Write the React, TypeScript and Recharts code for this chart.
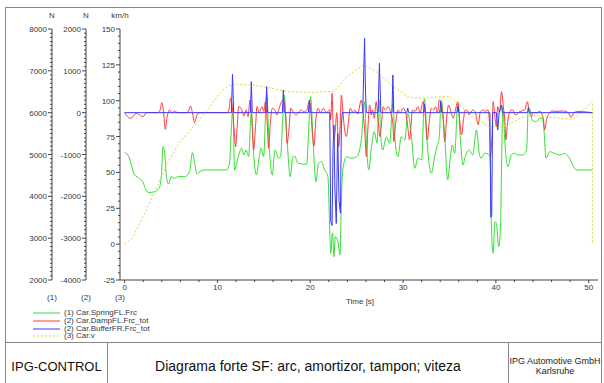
import { LineChart, Line, XAxis, YAxis } from 'recharts';

// (1) Car.SpringFL.Frc [N]
const springT = [
  0, 0.36, 1.08, 1.6, 2.0, 2.3, 2.6, 3.2, 3.7, 3.95, 4.13, 4.3, 4.5, 4.74, 5.0, 5.4, 5.74, 6.47, 7.0, 7.3,
  7.54, 7.8, 8.1, 8.6, 11.0, 11.3, 11.45, 11.65, 11.85, 12.2, 12.6, 12.85, 13.1, 13.35, 13.65, 13.9, 14.2,
  14.5, 14.7, 14.97, 15.3, 15.6, 15.9, 16.2, 16.6, 16.8, 17.06, 17.2, 17.5, 17.85, 18.1, 18.3, 18.7, 19.6,
  19.9, 20.04, 20.3, 20.6, 20.9, 21.2, 21.55, 21.9, 22.1, 22.2, 22.4, 22.55, 22.7, 23.0, 23.2, 23.35, 23.5,
  23.9, 24.4, 25.0, 25.5, 25.86, 26.05, 26.3, 26.6, 26.9, 27.2, 27.4, 27.6, 27.8, 28.2, 28.55, 28.9, 29.1,
  29.45, 29.8, 30.2, 30.5, 30.9, 31.25, 31.6, 32.0, 32.3, 32.6, 33.05, 33.4, 33.65, 33.9, 34.1, 34.5, 34.8,
  35.1, 35.3, 35.56, 35.9, 36.2, 36.45, 36.7, 37.1, 37.5, 37.9, 38.2, 38.4, 38.8, 39.3, 39.45, 39.5, 39.7,
  39.9, 40.05, 40.3, 40.5, 40.6, 40.76, 40.95, 41.3, 41.66, 42.0, 42.4, 42.9, 43.3, 43.5, 43.7, 43.9, 44.4,
  44.7, 45.0, 45.15, 45.4, 45.8, 46.3, 46.9, 47.4, 47.8, 48.7, 50.4,
];
const springN = [
  5044, 4988, 4510, 4430, 4320, 4150, 4090, 4110, 4190, 4470, 5187, 5068, 4470, 4295, 4470, 4430, 4470, 4470, 4590, 5044,
  4790, 4535, 4590, 4630, 4630, 4790, 5400, 6100, 4630, 4910, 5150, 4990, 5108, 4948, 6000, 5000, 4510,
  4948, 5150, 4948, 6420, 5108, 4510, 5108, 4910, 4950, 5993, 6420, 5347, 4470, 4910, 4965, 4790, 4766,
  5904, 6382, 5347, 4350, 4790, 4830, 4630, 4470, 3196, 2640, 3125, 2558, 3036, 2885, 2600, 3841, 4630,
  4948, 4910, 4948, 5347, 6262, 5268, 4630, 5187, 5545, 5268, 6303, 5426, 5108, 5426, 5268, 6223, 5426,
  4948, 5426, 5347, 5985, 5426, 4671, 4910, 4870, 6344, 5268, 4551, 4948, 5187, 5426, 6303, 5347, 4391,
  4948, 5228, 5029, 6223, 5268, 4750, 4948, 5108, 4989, 5586, 5029, 4910, 5029, 4989, 4500, 3355, 2640,
  3395, 3355, 2797, 3275, 4630, 6143, 5347, 4710, 4989, 5029, 4989, 4989, 5108, 6143, 6064, 5825, 5786,
  5865, 5865, 5666, 4910, 5068, 5029, 4989, 5029, 4948, 4630, 4630,
];

// (2) Car.DampFL.Frc_tot [N]
const dampT = [
  0, 0.15, 0.7, 1.25, 1.6, 1.97, 2.4, 3.6, 3.84, 4.0, 4.2, 4.38, 4.55, 4.85, 5.1, 5.4, 5.7, 6.7, 6.93, 7.1,
  7.3, 7.54, 7.8, 8.1, 11.0, 11.24, 11.4, 11.6, 11.8, 11.96, 12.1, 12.3, 12.6, 12.85, 13.1, 13.3, 13.5, 13.7,
  13.9, 14.1, 14.26, 14.5, 14.8, 15.0, 15.16, 15.4, 15.5, 15.7, 15.9, 16.2, 16.4, 16.65, 16.9, 17.1, 17.35,
  17.5, 17.7, 17.9, 18.2, 18.5, 18.75, 19.0, 19.3, 19.65, 19.86, 20.03, 20.2, 20.4, 20.6, 20.83, 21.1, 21.4,
  21.7, 21.9, 22.1, 22.2, 22.35, 22.45, 22.55, 22.7, 22.85, 23.06, 23.2, 23.35, 23.5, 23.7, 23.9, 24.1, 24.3,
  24.6, 24.8, 25.1, 25.5, 25.65, 25.86, 26.05, 26.2, 26.4, 26.55, 26.7, 26.9, 27.1, 27.3, 27.5, 27.65, 27.85,
  28.1, 28.4, 28.65, 28.9, 29.0, 29.2, 29.45, 29.7, 30.0, 30.25, 30.5, 30.7, 30.85, 31.0, 31.3, 31.6, 31.85,
  32.15, 32.4, 32.6, 32.8, 33.05, 33.3, 33.5, 33.7, 33.9, 34.05, 34.3, 34.5, 34.65, 34.9, 35.1, 35.4, 35.6,
  35.9, 36.1, 36.3, 36.5, 36.7, 37.0, 37.1, 37.5, 37.8, 38.1, 38.3, 38.6, 38.9, 39.15, 39.3, 39.4, 39.6,
  39.7, 39.85, 40.05, 40.2, 40.4, 40.6, 40.8, 41.0, 41.06, 41.25, 41.5, 41.8, 42.1, 42.6, 43.1, 43.4, 43.55,
  43.8, 44.0, 44.4, 44.7, 45.1, 45.26, 45.45, 45.8, 46.0, 46.5, 47.3, 47.8, 48.1, 48.4, 48.8, 50.4,
];
const dampN = [
  0, -55, -134, -15, -55, -95, 0, 0, 80, 240, 0, -397, -134, 65, 0, 40, 0, 0, 65, 160,
  0, -240, -55, 0, 0, 65, 344, 144, -413, -812, -413, 144, 80, -79, 65, -95, 303, -95,
  -891, -334, 144, 0, 144, 30, 263, -413, -851, -254, 105, 60, -55, 105, 263, 303, -95,
  -732, -413, 105, 0, -55, 0, 65, 20, 65, 263, 150, -413, -794, -174, 105, 0, 105,
  0, 30, 65, -174, 464, -250, -652, -413, 0, -812, -413, 422, 65, -413, -572, -254, 105,
  0, 65, -30, 303, 65, -413, -1050, -413, 184, -55, 65, -134, 263, -174, -572, -334, 144,
  65, 144, 0, -254, -692, -254, 65, 0, 105, 30, -334, -652, -334, 65, 30, 144, 0,
  263, -95, -652, -254, 105, 65, 144, 0, 303, 263, -95, -692, -254, 184, 65, -134, 30,
  263, -174, -533, -174, 65, 30, -55, 65, 0, -294, 0, 65, 30, 65, -214, -1050, -413,
  263, 0, -334, 144, 0, 502, 144, -334, -652, -254, 30, 65, -55, 30, 65, 263, 65,
  -95, 0, 0, 40, -134, -413, -174, 0, 40, 30, 40, 0, -110, 0, 30, 0,
];

// (2) Car.BufferFR.Frc_tot [N]
const bufferT = [
  0, 11.5, 11.62, 11.75, 13.55, 13.65, 13.75, 15.2, 15.3, 15.4, 17.0, 17.1, 17.2, 19.8, 19.9, 20.0,
  22.1, 22.2, 22.35, 22.45, 22.55, 22.65, 22.8, 22.95, 23.1, 23.25, 23.35, 23.45, 25.65, 25.75, 25.85,
  25.95, 26.05, 27.3, 27.45, 27.6, 28.8, 28.9, 29.0, 30.4, 30.5, 30.6, 32.2, 32.3, 32.4, 33.95, 34.05,
  34.15, 35.8, 35.9, 36.0, 39.35, 39.45, 39.55, 39.65, 40.05, 40.2, 40.35, 40.6, 40.7, 43.4, 43.5, 43.6, 50.4,
];
const bufferN = [
  0, 0, 918, 0, 0, 741, 0, 0, 621, 0, 0, 542, 0, 0, 303, 0,
  0, -2600, -2700, -900, -300, -1800, -2650, -500, -2100, -2400, -300, 0, 0, 900, 1777,
  500, 0, 0, 1180, 0, 0, 900, 0, 0, 110, 0, 0, 200, 0, 0, 260,
  0, 0, 150, 0, 0, -2500, -2450, 0, 0, -413, 0, 184, 0, 0, 105, 0, 0,
];

// (3) Car.v [km/h]
const speedT = [
  0, 0.8, 1.6, 3.05, 4.5, 5.9, 7.7, 9.2, 10.2, 11.1, 11.8, 13.8, 15.3, 16.7, 17.8, 20.3, 22.6, 23.9, 25.7,
  27.1, 28.9, 30.5, 32.1, 33.9, 35.0, 36.1, 37.5, 39.3, 40.8, 42.6, 43.6, 45.4, 46.9, 48.3, 49.4, 50.4, 50.4,
];
const speedV = [
  0, 4, 14, 34, 55, 71, 84, 95.7, 105, 110.2, 111.6, 110.9, 109.3, 107.5, 106.2, 105.8, 106.7, 116.7, 124.8,
  120.2, 110.2, 102.7, 101.6, 102.7, 103.2, 97, 88.8, 81.8, 81.8, 87.7, 90, 88.8, 87.7, 87, 93.4, 99.2, 0.5,
];

const xTicks = [0, 2, 4, 6, 8, 10, 12, 14, 16, 18, 20, 22, 24, 26, 28, 30, 32, 34, 36, 38, 40, 42, 44, 46, 48, 50];

const steps = (from: number, to: number, step: number) => {
  const out: number[] = [];
  for (let v = from; v <= to; v += step) out.push(v);
  return out;
};

const n1Ticks = steps(2000, 8000, 100);
const n2Ticks = steps(-4000, 2000, 100);
const vTicks = steps(-25, 150, 5);

const legendItems = [
  { label: '(1) Car.SpringFL.Frc', color: '#33e033', dash: '' },
  { label: '(2) Car.DampFL.Frc_tot', color: '#ff3b3b', dash: '' },
  { label: '(2) Car.BufferFR.Frc_tot', color: '#3838ff', dash: '' },
  { label: '(3) Car.v', color: '#d8d83a', dash: '2 2' },
];

const toPoints = (ts: number[], vs: number[]) => ts.map((t, i) => ({ t, v: vs[i] }));

const axisColor = '#444';
const labelColor = '#333a44';

const YTick = (major: number) => (props: any) => {
  const { x, y, payload } = props;
  const isMajor = Math.abs(payload.value % major) < 1e-6;
  return (
    <g>
      <line x1={x - (isMajor ? 4 : 2)} x2={x} y1={y} y2={y} stroke={axisColor} strokeWidth={1} />
      {isMajor && (
        <text x={x - 5} y={y} dy={3} textAnchor="end" fontSize={8} fill={labelColor}>
          {payload.value}
        </text>
      )}
    </g>
  );
};

const XTick = (props: any) => {
  const { x, y, payload } = props;
  const isMajor = payload.value % 10 === 0;
  return (
    <g>
      <line x1={x} x2={x} y1={y} y2={y + (isMajor ? 3 : 2)} stroke={axisColor} strokeWidth={1} />
      {isMajor && (
        <text x={x} y={y + 10} textAnchor="middle" fontSize={8} fill={labelColor}>
          {payload.value}
        </text>
      )}
    </g>
  );
};

const abs = (left: number, top: number, extra: any = {}) => ({
  position: 'absolute' as const,
  left,
  top,
  ...extra,
});

// axis ids: "a" sits next to the plot, "c" is outermost
const SPEED_AXIS = 'a';
const N2_AXIS = 'b';
const N1_AXIS = 'c';

export default function App() {
  const spring = toPoints(springT, springN);
  const damp = toPoints(dampT, dampN);
  const buffer = toPoints(bufferT, bufferN);
  const speed = toPoints(speedT, speedV);

  return (
    <div
      style={{
        position: 'absolute',
        left: 0,
        top: 0,
        width: 604,
        height: 383,
        background: '#fff',
        overflow: 'hidden',
        fontFamily: 'Arial, "Liberation Sans", sans-serif',
      }}
    >
      <div style={abs(5, 7, { width: 595, height: 390, border: '1px solid #888' })} />

      <div style={abs(0, 0)}>
        <LineChart width={604} height={300} margin={{ top: 29, right: 6, bottom: 0, left: 18 }}>
          <XAxis
            dataKey="t"
            type="number"
            domain={[-0.5, 51]}
            ticks={xTicks}
            interval={0}
            tick={XTick}
            tickSize={0}
            tickMargin={0}
            tickLine={false}
            height={20}
            stroke={axisColor}
          />
          <YAxis
            yAxisId={SPEED_AXIS}
            domain={[-25, 150]}
            ticks={vTicks}
            interval={0}
            tick={YTick(25)}
            tickSize={0}
            tickMargin={0}
            tickLine={false}
            width={34}
            stroke={axisColor}
          />
          <YAxis
            yAxisId={N2_AXIS}
            domain={[-4000, 2000]}
            ticks={n2Ticks}
            interval={0}
            tick={YTick(1000)}
            tickSize={0}
            tickMargin={0}
            tickLine={false}
            width={34}
            stroke={axisColor}
          />
          <YAxis
            yAxisId={N1_AXIS}
            domain={[2000, 8000]}
            ticks={n1Ticks}
            interval={0}
            tick={YTick(1000)}
            tickSize={0}
            tickMargin={0}
            tickLine={false}
            width={34}
            stroke={axisColor}
          />
          <Line
            yAxisId={N1_AXIS}
            data={spring}
            dataKey="v"
            type="monotone"
            stroke="#33e033"
            strokeWidth={1}
            dot={false}
            isAnimationActive={false}
          />
          <Line
            yAxisId={N2_AXIS}
            data={damp}
            dataKey="v"
            type="monotone"
            stroke="#ff3b3b"
            strokeWidth={1}
            dot={false}
            isAnimationActive={false}
          />
          <Line
            yAxisId={SPEED_AXIS}
            data={speed}
            dataKey="v"
            type="linear"
            stroke="#d8d83a"
            strokeWidth={1}
            strokeDasharray="2 2"
            dot={false}
            isAnimationActive={false}
          />
          <Line
            yAxisId={N2_AXIS}
            data={buffer}
            dataKey="v"
            type="linear"
            stroke="#3838ff"
            strokeWidth={1}
            dot={false}
            isAnimationActive={false}
          />
        </LineChart>
      </div>

      {/* unit labels above the axes */}
      <div style={abs(46, 11, { fontSize: 8, color: labelColor, width: 12, textAlign: 'center' })}>N</div>
      <div style={abs(80, 11, { fontSize: 8, color: labelColor, width: 12, textAlign: 'center' })}>N</div>
      <div style={abs(104, 11, { fontSize: 8, color: labelColor, width: 32, textAlign: 'center' })}>km/h</div>

      {/* axis numbers below */}
      <div style={abs(42, 293, { fontSize: 8, color: labelColor, width: 20, textAlign: 'center' })}>(1)</div>
      <div style={abs(76, 293, { fontSize: 8, color: labelColor, width: 20, textAlign: 'center' })}>(2)</div>
      <div style={abs(110, 293, { fontSize: 8, color: labelColor, width: 20, textAlign: 'center' })}>(3)</div>
      <div style={abs(320, 297, { fontSize: 8, color: labelColor, width: 80, textAlign: 'center' })}>Time [s]</div>

      {/* legend */}
      {legendItems.map((item, i) => (
        <div key={item.label} style={abs(33, 309 + i * 7.8, { display: 'flex', alignItems: 'center', height: 8 })}>
          <svg width={27} height={4} style={{ display: 'block' }}>
            <line x1={0} x2={27} y1={2} y2={2} stroke={item.color} strokeWidth={1} strokeDasharray={item.dash} />
          </svg>
          <span style={{ fontSize: 8, color: labelColor, marginLeft: 4, lineHeight: '8px' }}>{item.label}</span>
        </div>
      ))}

      {/* footer */}
      <div style={abs(5, 342, { width: 596, height: 0, borderTop: '1px solid #888' })} />
      <div style={abs(107, 342, { width: 0, height: 45, borderLeft: '1px solid #888' })} />
      <div style={abs(508, 342, { width: 0, height: 45, borderLeft: '1px solid #888' })} />
      <div style={abs(6, 359, { width: 101, textAlign: 'center', fontSize: 13, color: '#111' })}>IPG-CONTROL</div>
      <div style={abs(108, 358, { width: 400, textAlign: 'center', fontSize: 14, color: '#111' })}>
        Diagrama forte SF: arc, amortizor, tampon; viteza
      </div>
      <div style={abs(509, 356, { width: 92, textAlign: 'center', fontSize: 9, color: '#222', lineHeight: '10px' })}>
        IPG Automotive GmbH
        <br />
        Karlsruhe
      </div>
    </div>
  );
}
